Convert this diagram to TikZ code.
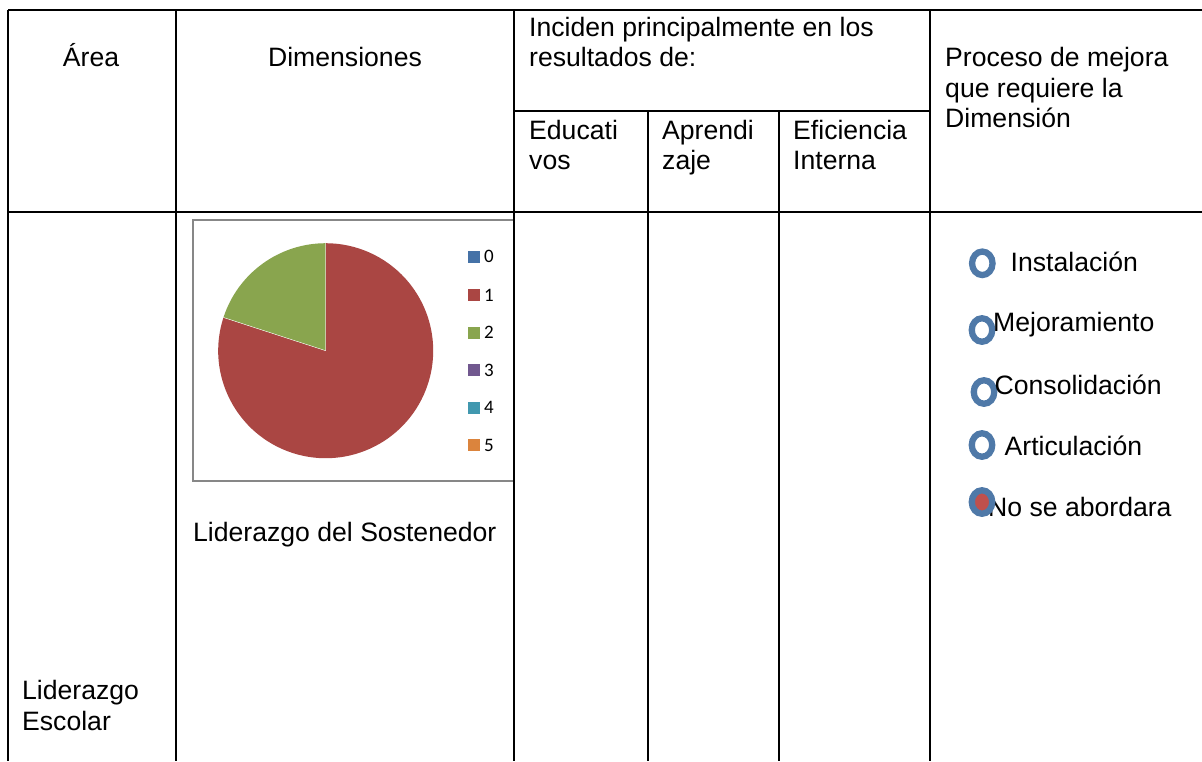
\documentclass[tikz,border=0pt]{standalone}
\usepackage{fontspec}
\setmainfont{Liberation Sans}
\newfontfamily\legfont{Carlito}
\definecolor{pred}{HTML}{AA4643}
\definecolor{pgreen}{HTML}{89A54E}
\definecolor{pblue}{HTML}{4572A7}
\definecolor{ppurple}{HTML}{71588F}
\definecolor{pcyan}{HTML}{4198AF}
\definecolor{porange}{HTML}{DB843D}
\definecolor{ringblue}{HTML}{4F79A8}
\definecolor{dotred}{HTML}{C0504D}
\definecolor{framegray}{HTML}{878787}
\tikzset{
  grid/.style={line width=2.8pt, black},
  txt/.style={inner sep=0pt, anchor=base west, font=\fontsize{26.6}{30.5}\selectfont, align=left},
  ctxt/.style={inner sep=0pt, anchor=base, font=\fontsize{26.6}{30.5}\selectfont},
  legsq/.style={minimum size=12pt, inner sep=0pt},
  legtxt/.style={inner sep=0pt, anchor=west, font=\legfont\fontsize{19}{22}\selectfont},
  ring/.style={draw=ringblue, line width=6.3pt, ellipse, minimum width=20.5pt, minimum height=23.5pt, inner sep=0pt},
}
\usetikzlibrary{shapes.geometric}
\begin{document}
\begin{tikzpicture}[x=1pt,y=1pt]
\useasboundingbox (0,0) rectangle (1202,-761);
% chart frame
\draw[framegray, line width=2pt] (193,-220) rectangle (514,-481);
% pie
\coordinate (pc) at (325.7,-350.7);
\fill[pred] (pc) -- ++(162:107.5) arc[start angle=162,end angle=450,radius=107.5] -- cycle;
\fill[pgreen] (pc) -- ++(90:107.5) arc[start angle=90,end angle=162,radius=107.5] -- cycle;
\draw[white, line width=0.4pt] (pc) -- ++(90:107.5) (pc) -- ++(162:107.5);
% legend
\foreach \c/\l/\y in {pblue/0/256.7, pred/1/295, pgreen/2/332.5, ppurple/3/370, pcyan/4/407.7, porange/5/445}{
  \node[legsq, fill=\c] (sq\l) at (474,-\y) {};
  \node[legtxt] (lg\l) at (484,-\y) {\l};
}
% grid lines
\draw[grid] (8,-10) -- (1202,-10);
\draw[grid] (8,-212) -- (1202,-212);
\draw[grid] (514,-111) -- (930,-111);
\draw[grid] (8,-10) -- (8,-761);
\draw[grid] (176,-10) -- (176,-761);
\draw[grid] (514,-10) -- (514,-761);
\draw[grid] (930,-10) -- (930,-761);
\draw[grid] (648,-111) -- (648,-761);
\draw[grid] (779,-111) -- (779,-761);
% header texts (base anchor = last line's baseline)
\node[ctxt] (area) at (91,-66.7) {Área};
\node[ctxt] (dim) at (345,-66.7) {Dimensiones};
\node[txt] (inc) at (529,-66.7) {Inciden principalmente en los\\resultados de:};
\node[txt] (edu) at (529,-169.5) {Educati\\vos};
\node[txt] (apr) at (662,-169.5) {Aprendi\\zaje};
\node[txt] (efi) at (793,-169.5) {Eficiencia\\Interna};
\node[txt] (pro) at (945,-127.7) {Proceso de mejora\\que requiere la\\Dimensión};
% body texts
\node[txt] (sost) at (193,-541.7) {Liderazgo del Sostenedor};
\node[txt] (esc) at (22,-730) {Liderazgo\\Escolar};
% options
\node[ring] (r1) at (982.3,-263.3) {};
\node[txt] (o1) at (1010.5,-271.7) {Instalación};
\node[ring] (r2) at (982,-330) {};
\node[txt] (o2) at (993,-331.7) {Mejoramiento};
\node[ring] (r3) at (984,-392) {};
\node[txt] (o3) at (994.5,-394) {Consolidación};
\node[ring] (r4) at (982,-445) {};
\node[txt] (o4) at (1004.5,-455) {Articulación};
\node[txt] (o5) at (988,-516) {No se abordara};
\node[ring, fill=dotred] (r5) at (982,-502) {};
\end{tikzpicture}
\end{document}
